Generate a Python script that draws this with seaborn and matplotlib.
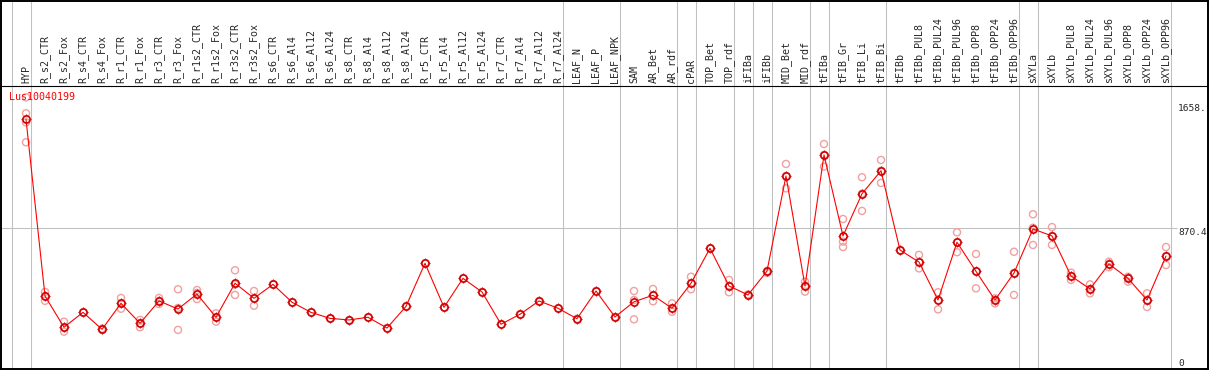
import matplotlib
matplotlib.use("Agg")
import matplotlib.pyplot as plt
from matplotlib.path import Path
import pandas as pd
import seaborn as sns

sns.set_theme(style="white")
plt.rcParams["font.family"] = ["DejaVu Sans Mono", "DejaVu Sans"]

gene = "Lus10040199"

samples = [
    "HYP", "R_s2_CTR", "R_s2_Fox", "R_s4_CTR", "R_s4_Fox", "R_r1_CTR", "R_r1_Fox",
    "R_r3_CTR", "R_r3_Fox", "R_r1s2_CTR", "R_r1s2_Fox", "R_r3s2_CTR", "R_r3s2_Fox",
    "R_s6_CTR", "R_s6_Al4", "R_s6_Al12", "R_s6_Al24", "R_s8_CTR", "R_s8_Al4",
    "R_s8_Al12", "R_s8_Al24", "R_r5_CTR", "R_r5_Al4", "R_r5_Al12", "R_r5_Al24",
    "R_r7_CTR", "R_r7_Al4", "R_r7_Al12", "R_r7_Al24", "LEAF_N", "LEAF_P", "LEAF_NPK",
    "SAM", "AR_Bet", "AR_rdf", "cPAR", "TOP_Bet", "TOP_rdf", "iFIBa", "iFIBb",
    "MID_Bet", "MID_rdf", "tFIBa", "tFIB_Gr", "tFIB_Li", "tFIB_Bi", "tFIBb",
    "tFIBb_PUL8", "tFIBb_PUL24", "tFIBb_PUL96", "tFIBb_OPP8", "tFIBb_OPP24",
    "tFIBb_OPP96", "sXYLa", "sXYLb", "sXYLb_PUL8", "sXYLb_PUL24", "sXYLb_PUL96",
    "sXYLb_OPP8", "sXYLb_OPP24", "sXYLb_OPP96",
]

means = [
    1559, 442, 245, 339, 232, 396, 270, 411, 360, 455, 308, 523, 428, 516, 403,
    339, 301, 291, 308, 240, 377, 649, 371, 554, 468, 264, 327, 411, 365, 299,
    474, 310, 406, 447, 365, 523, 744, 506, 449, 600, 1201, 506, 1334, 822, 1089,
    1234, 733, 657, 417, 782, 598, 417, 588, 866, 822, 569, 487, 645, 554, 417, 695,
]

replicates = [
    [1698, 1597, 1540, 1414], [468, 442, 412], [280, 240, 217], [339], [236, 228],
    [430, 396, 362], [291, 270, 245], [430, 411, 392], [485, 367, 228],
    [480, 462, 423], [333, 308, 280], [605, 515, 449], [474, 428, 381], [516],
    [403], [339], [301], [291], [308], [240], [377], [649], [371], [554], [468],
    [264], [327], [411], [365], [299], [474], [310],
    [474, 417, 295], [487, 447, 409], [396, 365, 343], [564, 523, 485], [744],
    [544, 506, 466], [449, 452], [600, 588], [1277, 1201, 1123], [533, 506, 470],
    [1403, 1334, 1260], [929, 786, 752], [1193, 1089, 980], [1302, 1234, 1157],
    [733], [702, 657, 617], [466, 417, 358], [845, 782, 719], [708, 598, 491],
    [428, 417, 396], [722, 588, 449], [959, 874, 765], [878, 822, 765],
    [590, 569, 544], [516, 487, 459], [659, 645, 624], [564, 554, 533],
    [459, 417, 373], [752, 695, 638],
]

# index of the last sample in each tissue group (-1 = left edge)
group_ends = [-1, 0, 28, 31, 34, 35, 37, 38, 39, 41, 42, 45, 52, 53, 60]

ytick_vals = [1658, 870.4, 0]
ytick_text = ["1658.", "870.4", "0"]

pos = list(range(len(samples)))
rep_df = pd.DataFrame(
    [(i, v) for i, vals in enumerate(replicates) for v in vals],
    columns=["pos", "value"],
)

# four short ticks sticking out of the ring (the "gunsight" look)
ticks = Path([(0, 1), (0, 1.35), (0, -1), (0, -1.35), (1, 0), (1.35, 0), (-1, 0), (-1.35, 0)],
             [Path.MOVETO, Path.LINETO] * 4)

W, H = 1209, 370
def box(x0, y0, x1, y1):
    return [x0 / W, 1 - y1 / H, (x1 - x0) / W, (y1 - y0) / H]

fig = plt.figure(figsize=(W / 100, H / 100), dpi=100)
ax_h = fig.add_axes(box(1, 1, 1207.5, 85.5))
ax = fig.add_axes(box(1, 85.5, 1207.5, 369))

xlim = ((1 - 26) / 19, (1207.5 - 26) / 19)
ylim = ((366 - 369) * 6.32, (366 - 85.5) * 6.32)
grey = "#c0c0c0"

for a in (ax, ax_h):
    a.set_xlim(*xlim)
    a.set_xticks([])
    a.set_yticks([])
    for s in a.spines.values():
        s.set_color("black")
        s.set_linewidth(1.4)
ax_h.set_ylim(0, 1)
ax.set_ylim(*ylim)
ax.spines["top"].set_linewidth(0.8)
ax_h.spines["bottom"].set_visible(False)

bounds = [e + 0.24 for e in group_ends]
ax.vlines(bounds, *ylim, color=grey, lw=0.75, zorder=1)
ax_h.vlines(bounds, 0, 1, color=grey, lw=0.75, zorder=1)
ax.hlines(870.4, xlim[0], (1177 - 26) / 19, color=grey, lw=0.75, zorder=1)

for i, s in enumerate(samples):
    ax_h.text(i, 0.03, s, rotation=90, ha="center", va="bottom", fontsize=7.2)

sns.scatterplot(data=rep_df, x="pos", y="value", ax=ax, marker="o", s=26,
                color="#f0a0a0", facecolor="none", edgecolor="#f0a0a0",
                linewidth=1.0, legend=False, zorder=2)
sns.lineplot(x=pos, y=means, ax=ax, color="red", lw=0.8, sort=False,
             errorbar=None, marker="o", markersize=5.2, mfc="none",
             mec="#d00000", mew=1.2, zorder=3)
ax.plot(pos, means, ls="none", marker=ticks, markersize=7.0,
        mec="#d00000", mew=0.8, zorder=3)
ax.set_xlabel("")
ax.set_ylabel("")

xr = (1178 - 26) / 19
for v, txt in zip(ytick_vals, ytick_text):
    ax.text(xr, v, txt, ha="left", va="top" if v > 0 else "baseline", fontsize=6.8)

ax.text((9 - 26) / 19, (366 - 96.7) * 6.32, gene, color="red",
        ha="left", va="center", fontsize=7.2, zorder=4)

fig.savefig("out.png", dpi=100)
